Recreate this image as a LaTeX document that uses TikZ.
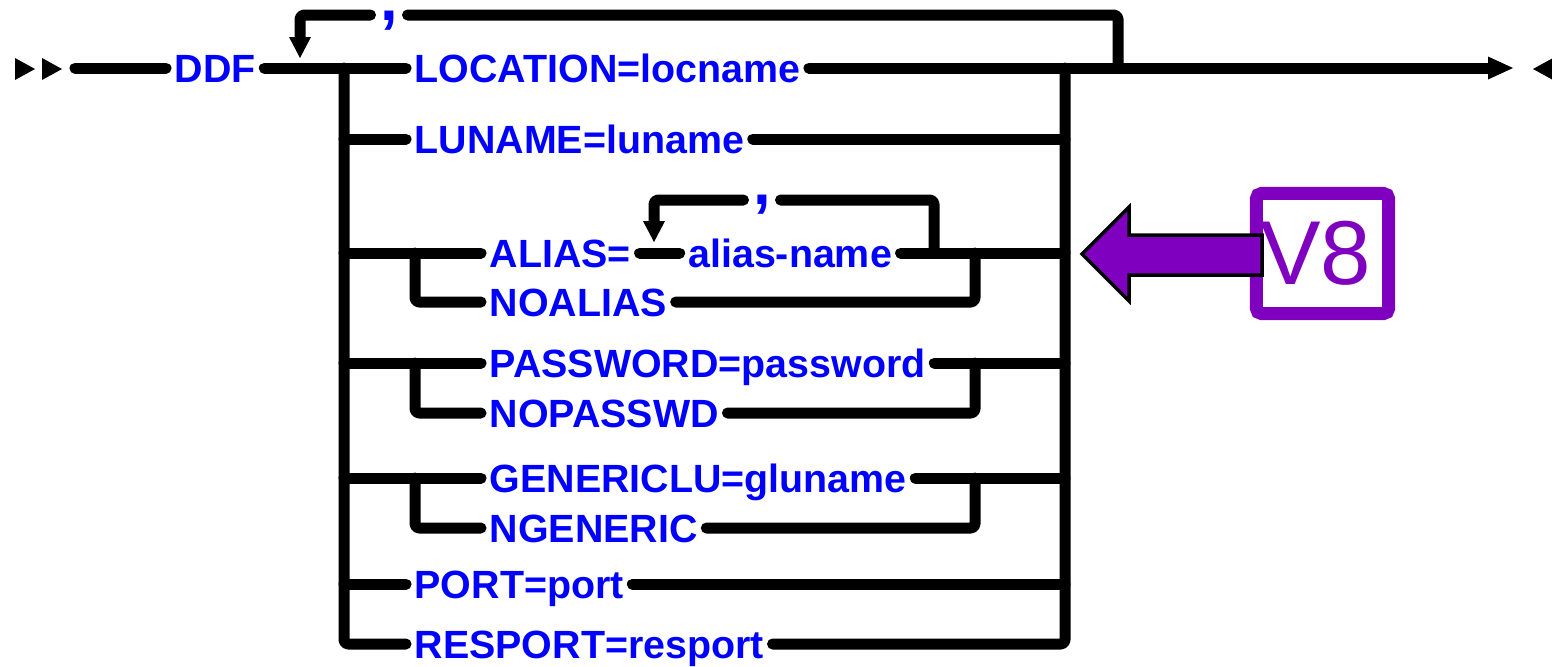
\documentclass[tikz,border=0pt]{standalone}
\usepackage{fontspec}
\setmainfont{Liberation Sans}
\usetikzlibrary{positioning}
\definecolor{kwblue}{HTML}{0000FF}
\definecolor{vpurple}{HTML}{7F00BF}

\begin{document}
\begin{tikzpicture}[x=0.01cm, y=-0.01cm]
      \tikzstyle{rail}=[line width=0.11cm, line cap=round, line join=round, rounded corners=0.04cm]
      \tikzstyle{kw}=[font={\fontsize{11.2}{13}\selectfont\bfseries}, text=kwblue, inner xsep=0.08cm, inner ysep=0pt, text height=0.28cm, text depth=0pt, anchor=west]
      \tikzstyle{sep}=[font={\fontsize{18}{20}\selectfont\bfseries}, text=kwblue, inner xsep=0.09cm, inner ysep=0pt, text height=0.09cm, text depth=0.1cm, anchor=base]

      \useasboundingbox (0,0) rectangle (1552,666);

      % start and end marks
      \fill (15,58) -- (35,69) -- (15,80) -- cycle;
      \fill (42,58) -- (62,69) -- (42,80) -- cycle;
      \fill (1533,69) -- (1553,58) -- (1553,80) -- cycle;

      \coordinate (begin) at (75,68);
      \coordinate (exit) at (1513,68);
      \coordinate (lx) at (344,0);
      \coordinate (sx) at (415,0);
      \coordinate (srx) at (975,0);
      \coordinate (rx) at (1065,0);
      \coordinate (rt) at (1118,15);
      \coordinate (loopin) at (300,58);
      \coordinate (art) at (934,200);
      \coordinate (aloopin) at (654,242);

      \node[kw] (ddf) at (166,68) {DDF};
      \node[kw] (loc) at (406,68) {LOCATION=locname};
      \node[kw] (luname) at (406,139) {LUNAME=luname};
      \node[kw] (aliaseq) at (481,253) {ALIAS=};
      \node[kw, right=0.4cm of aliaseq] (aliasname) {alias-name};
      \node[kw] (noalias) at (481,302) {NOALIAS};
      \node[kw] (password) at (481,363) {PASSWORD=password};
      \node[kw] (nopasswd) at (481,413) {NOPASSWD};
      \node[kw] (genericlu) at (481,478) {GENERICLU=gluname};
      \node[kw] (ngeneric) at (481,528) {NGENERIC};
      \node[kw] (port) at (406,584) {PORT=port};
      \node[kw] (resport) at (406,644) {RESPORT=resport};

      \node[sep] (comma1) at (389,20) {,};
      \node[sep] (comma2) at (762,204) {,};

      % main line
      \draw[rail] (begin) -- (ddf.west);
      \draw[rail] (ddf.east) -- (loc.west);
      \draw[rail] (loc.east) -- ([xshift=-0.25cm]exit);
      \fill (exit) -- ++(-25,-11.5) -- ++(0,23) -- cycle;

      % repeat loop
      \draw[rail] (rt |- loc.west) -- (rt) -- (comma1.east |- rt);
      \draw[rail] (comma1.west |- rt) -| ([yshift=0.21cm]loopin);
      \fill (loopin) -- ++(-11,-21) -- ++(22,0) -- cycle;

      % outer rails
      \draw[rail] (lx |- loc.west) |- (resport.west);
      \draw[rail] (resport.east) -| (rx |- loc.west);

      % LUNAME
      \draw[rail] (lx |- luname.west) -- (luname.west);
      \draw[rail] (luname.east) -- (rx |- luname.west);

      % ALIAS / NOALIAS
      \draw[rail] (lx |- aliaseq.west) -- (aliaseq.west);
      \draw[rail] (sx |- aliaseq.west) |- (noalias.west);
      \draw[rail] (aliaseq.east) -- (aliasname.west);
      \draw[rail] (aliasname.east) -- (rx |- aliasname.west);
      \draw[rail] (noalias.east) -| (srx |- aliasname.west);
      \draw[rail] (art |- aliasname.west) -- (art) -- (comma2.east |- art);
      \draw[rail] (comma2.west |- art) -| ([yshift=0.21cm]aloopin);
      \fill (aloopin) -- ++(-11,-21) -- ++(22,0) -- cycle;

      % PASSWORD / NOPASSWD
      \draw[rail] (lx |- password.west) -- (password.west);
      \draw[rail] (sx |- password.west) |- (nopasswd.west);
      \draw[rail] (password.east) -- (rx |- password.west);
      \draw[rail] (nopasswd.east) -| (srx |- password.west);

      % GENERICLU / NGENERIC
      \draw[rail] (lx |- genericlu.west) -- (genericlu.west);
      \draw[rail] (sx |- genericlu.west) |- (ngeneric.west);
      \draw[rail] (genericlu.east) -- (rx |- genericlu.west);
      \draw[rail] (ngeneric.east) -| (srx |- genericlu.west);

      % PORT
      \draw[rail] (lx |- port.west) -- (port.west);
      \draw[rail] (port.east) -- (rx |- port.west);

      % V8 callout
      \node[draw=vpurple, line width=0.13cm, rounded corners=0.05cm, minimum width=1.32cm, minimum height=1.2cm, inner sep=0pt, text=vpurple, font=\fontsize{25.8}{28}\selectfont] (v8) at (1322.5,253.5) {\kern-0.14cm V8};
      \draw[fill=vpurple, line width=0.035cm, line join=miter] (1082,254) -- (1129,207) -- (1129,235) -- (1262,235) -- (1262,275) -- (1129,275) -- (1129,301) -- cycle;
    \end{tikzpicture}
\end{document}
